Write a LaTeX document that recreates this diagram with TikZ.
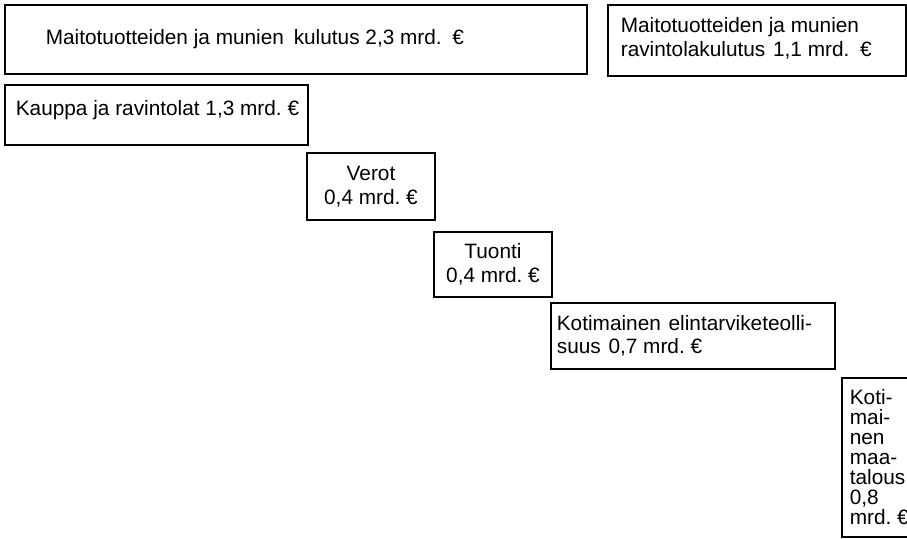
\documentclass[tikz,border=0pt]{standalone}
\usepackage{fontspec}
\setmainfont{Liberation Sans}

\begin{document}
\begin{tikzpicture}[x=1pt, y=-1pt,
    laatikko/.style={draw, rectangle, line width=2.7pt, inner sep=0pt},
    teksti/.style={anchor=west, inner sep=0pt, align=left, font=\fontsize{20.8}{23.5}\selectfont},
    keski/.style={align=center, font=\fontsize{20.8}{23.5}\selectfont}]
    \path[use as bounding box] (0,0) rectangle (907,538);
    \clip (0,0) rectangle (907,538);

    % kulutus ylimpana
    \node[laatikko, minimum width=582pt, minimum height=69pt] (kulutus) at (296,39.5) {};
    \node[teksti] (kulutusT) at ([xshift=42pt]kulutus.west) {Maitotuotteiden ja munien\hspace{4pt} kulutus 2,3 mrd.\hspace{3pt} €};

    \node[laatikko, minimum width=298pt, minimum height=71pt] (ravkulutus) at (757,40.5) {};
    \node[teksti] (ravkulutusT) at ([xshift=14pt, yshift=2pt]ravkulutus.west) {Maitotuotteiden ja munien\\ravintolakulutus\hspace{2pt} 1,1 mrd.\hspace{3pt} €};

    % portaat
    \node[laatikko, minimum width=303pt, minimum height=60pt] (kauppa) at (156.5,115) {};
    \node[teksti] (kauppaT) at ([xshift=12pt, yshift=5pt]kauppa.west) {Kauppa ja ravintolat 1,3 mrd.~€};

    \node[laatikko, keski, minimum width=128pt, minimum height=67pt] (verot) at (371,186.5) {Verot\\0,4 mrd.~€};
    \node[laatikko, keski, minimum width=118pt, minimum height=65pt] (tuonti) at (493,264.5) {Tuonti\\0,4 mrd.~€};

    \node[laatikko, minimum width=284pt, minimum height=66pt] (teollisuus) at (693,336) {};
    \node[teksti] (teollisuusT) at ([xshift=7pt]teollisuus.west) {Kotimainen\hspace{2pt} elintarviketeolli-\\suus\hspace{2pt} 0,7 mrd.~€};

    \node[laatikko, minimum width=76pt, minimum height=159pt] (maatalous) at (880,457.5) {};
    \node[teksti, font=\fontsize{20.8}{20}\selectfont] (maatalousT) at ([xshift=9pt]maatalous.west) {Koti-\\mai-\\nen\\maa-\\talous\\0,8\\mrd.~€};
\end{tikzpicture}
\end{document}
